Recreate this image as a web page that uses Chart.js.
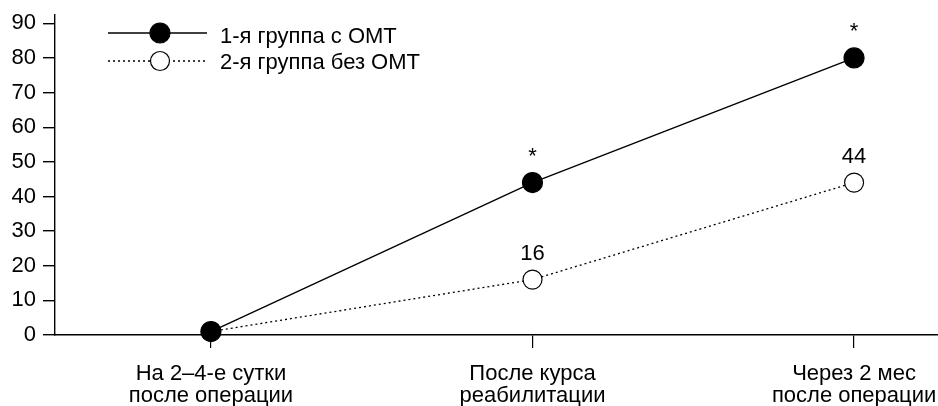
<!DOCTYPE html>
<html>
<head>
<meta charset="utf-8">
<script src="https://cdn.jsdelivr.net/npm/chart.js@4/dist/chart.umd.min.js"></script>
<style>
    html, body { margin: 0; padding: 0; background: #fff; overflow: hidden; }
    #wrap { width: 938px; height: 406px; }
</style>
</head>
<body>
<div id="wrap"><canvas id="chart" width="938" height="406"></canvas></div>
<script>
// categories (each one split into its two label lines)
var categories = [
    ["На 2–4-е сутки", "после операции"],
    ["После курса", "реабилитации"],
    ["Через 2 мес", "после операции"]
];

// series values
var seriesNames = ["1-я группа с ОМТ", "2-я группа без ОМТ"];
var group1 = [1, 44, 80];
var group2 = [1, 16, 44];

// text written above the points
var group1Marks = ["", "*", "*"];
var group2Marks = ["", "16", "44"];

// y axis ticks
var yTicks = [0, 10, 20, 30, 40, 50, 60, 70, 80, 90];

var FONT = "'Liberation Sans', Arial, sans-serif";
var FONT_SIZE = 22;

function toPoints(values) {
    return values.map(function(v, i) { return { x: i, y: v }; });
}

// legend drawn inside the plot, top left
var legendPlugin = {
    id: "innerLegend",
    afterDraw: function(chart) {
        var ctx = chart.ctx;
        var rows = [33, 61];
        var textRows = [43, 69];
        ctx.save();
        chart.data.datasets.forEach(function(ds, i) {
            var y = rows[i];
            ctx.strokeStyle = "#000";
            ctx.lineWidth = ds.borderWidth;
            ctx.setLineDash(ds.borderDash || []);
            ctx.beginPath();
            ctx.moveTo(108, y);
            ctx.lineTo(207, y);
            ctx.stroke();
            ctx.setLineDash([]);
            ctx.beginPath();
            ctx.arc(160, y, ds.pointRadius, 0, Math.PI * 2);
            ctx.fillStyle = ds.pointBackgroundColor;
            ctx.fill();
            ctx.lineWidth = ds.pointBorderWidth;
            ctx.stroke();
            ctx.fillStyle = "#000";
            ctx.font = FONT_SIZE + "px " + FONT;
            ctx.textAlign = "left";
            ctx.textBaseline = "alphabetic";
            ctx.fillText(ds.label, 220, textRows[i]);
        });
        ctx.restore();
    }
};

// the numbers and asterisks above the points
var marksPlugin = {
    id: "pointMarks",
    afterDatasetsDraw: function(chart) {
        var ctx = chart.ctx;
        var marks = [group1Marks, group2Marks];
        ctx.save();
        ctx.fillStyle = "#000";
        ctx.font = FONT_SIZE + "px " + FONT;
        ctx.textAlign = "center";
        ctx.textBaseline = "alphabetic";
        chart.data.datasets.forEach(function(ds, i) {
            var meta = chart.getDatasetMeta(i);
            meta.data.forEach(function(pt, j) {
                if (marks[i][j]) {
                    ctx.fillText(marks[i][j], pt.x, pt.y - 20);
                }
            });
        });
        ctx.restore();
    }
};

new Chart(document.getElementById("chart"), {
    type: "line",
    data: {
        datasets: [
            {
                label: seriesNames[0],
                data: toPoints(group1),
                borderColor: "#000",
                borderWidth: 1.4,
                pointRadius: 10,
                pointBackgroundColor: "#000",
                pointBorderColor: "#000",
                pointBorderWidth: 1.2,
                tension: 0,
                clip: false
            },
            {
                label: seriesNames[1],
                data: toPoints(group2),
                borderColor: "#000",
                borderWidth: 1.3,
                borderDash: [2, 3],
                pointRadius: 9.5,
                pointBackgroundColor: "#fff",
                pointBorderColor: "#000",
                pointBorderWidth: 1.2,
                tension: 0,
                clip: false
            }
        ]
    },
    options: {
        responsive: false,
        animation: false,
        devicePixelRatio: 1,
        layout: { autoPadding: false, padding: { top: 15, left: 0, right: 0, bottom: 0 } },
        plugins: {
            legend: { display: false },
            tooltip: { enabled: false }
        },
        scales: {
            x: {
                type: "linear",
                min: -0.485,
                max: 2.261,
                border: { color: "#000", width: 1.4 },
                grid: { drawOnChartArea: false, drawTicks: true, tickLength: 13, tickColor: "#000", lineWidth: 1.2 },
                ticks: {
                    color: "#000",
                    font: { family: FONT, size: FONT_SIZE, lineHeight: 1.0 },
                    padding: 15,
                    maxRotation: 0,
                    autoSkip: false,
                    callback: function(v) { return categories[v]; }
                },
                afterBuildTicks: function(scale) {
                    scale.ticks = categories.map(function(c, i) { return { value: i }; });
                },
                afterFit: function(scale) {
                    scale.height = 71;
                    scale.paddingLeft = 0;
                    scale.paddingRight = 0;
                }
            },
            y: {
                min: 0,
                max: 92.4,
                border: { color: "#000", width: 1.4 },
                grid: { drawOnChartArea: false, drawTicks: true, tickLength: 12, tickColor: "#000", lineWidth: 1.4 },
                ticks: {
                    color: "#000",
                    font: { family: FONT, size: FONT_SIZE },
                    padding: 7
                },
                afterBuildTicks: function(scale) {
                    scale.ticks = yTicks.map(function(v) { return { value: v }; });
                },
                afterFit: function(scale) {
                    scale.width = 55;
                    scale.paddingTop = 0;
                    scale.paddingBottom = 0;
                }
            }
        }
    },
    plugins: [legendPlugin, marksPlugin]
});
</script>
</body>
</html>
